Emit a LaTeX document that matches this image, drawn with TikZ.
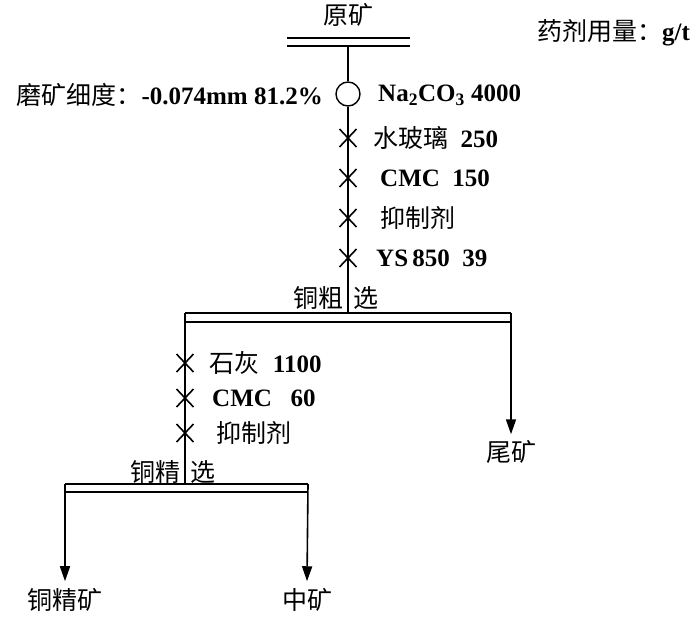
\documentclass[tikz,border=0pt]{standalone}
\usepackage{fontspec}
\setmainfont{Liberation Serif}
\newfontfamily\cjk{Noto Sans CJK SC}
\usetikzlibrary{arrows.meta,calc}
\newcommand{\fs}{\fontsize{25}{27}\selectfont}
\tikzset{
  lbl/.style={inner sep=0pt, font=\fs\bfseries},
  cn/.style={inner sep=0pt, font=\fs\cjk},
  mix/.style={inner sep=0pt, font=\fs},
  flow/.style={line width=1.6pt},
  bar/.style={line width=2pt},
  arr/.style={line width=1.6pt, -{Triangle[length=15pt,width=10pt]}},
  xmark/.style={line width=1.6pt}
}
\newcommand{\xm}[1]{\draw[xmark] ($(#1)+(-8.5,-9)$) -- ($(#1)+(8.5,9)$) ($(#1)+(-8.5,9)$) -- ($(#1)+(8.5,-9)$);}
\begin{document}
\begin{tikzpicture}[x=1pt,y=-1pt]
\useasboundingbox (0,0) rectangle (700,616);
% feed
\node[cn] (feed) at (348,15) {原矿};
\coordinate (f1) at (287,38); \coordinate (f2) at (410,38);
\coordinate (f3) at (287,46); \coordinate (f4) at (410,46);
\draw[bar] (f1) -- (f2);
\draw[bar] (f3) -- (f4);
\coordinate (ftop) at (348,46);
\node[draw, circle, line width=1.4pt, minimum size=24pt, inner sep=0pt] (mill) at (348,94) {};
\coordinate (rtop) at (348,313);
\draw[flow] (ftop) -- (mill.north);
\draw[flow] (mill.south) -- (rtop);
% crosses on main line
\coordinate (x1) at (348,138);
\coordinate (x2) at (348,178);
\coordinate (x3) at (348,218);
\coordinate (x4) at (348,258);
\xm{x1}\xm{x2}\xm{x3}\xm{x4}
% labels
\node[mix, anchor=east] (grind) at (323,95) {{\cjk 磨矿细度：}{\bfseries -0.074mm 81.2\%}};
\node[mix, anchor=west] (dose) at (537,33) {{\cjk 药剂用量：}{\bfseries g/t}};
\node[lbl, anchor=west] (na) at (378,95) {Na\textsubscript{2}CO\textsubscript{3} 4000};
\node[mix, anchor=west] (r1) at (373,138) {{\cjk 水玻璃}\hspace{0.5em}{\bfseries 250}};
\node[lbl, anchor=west] (r2) at (380,178) {CMC\ \ 150};
\node[cn, anchor=west] (r3) at (380,218) {抑制剂};
\node[lbl, anchor=west] (r4) at (376,258) {YS\,850\ \ 39};
% rougher
\node[cn, anchor=east] (ro1) at (344,298) {铜粗};
\node[cn, anchor=west] (ro2) at (353,298) {选};
\coordinate (rL) at (185,313); \coordinate (rR) at (511,313);
\coordinate (rLb) at (185,322); \coordinate (rRb) at (511,322);
\draw[bar] (rL) -- (rR);
\draw[line width=1.4pt] (rLb) -- (rRb);
\node[cn] (tail) at (511,452) {尾矿};
\draw[arr] (rR) -- ($(tail.north)+(0,-6)$);
% cleaner feed
\coordinate (ctop) at (185,484);
\draw[flow] (rL) -- (ctop);
\coordinate (y1) at (185,363);
\coordinate (y2) at (185,398);
\coordinate (y3) at (185,433);
\xm{y1}\xm{y2}\xm{y3}
\node[mix, anchor=west] (c1) at (209,363) {{\cjk 石灰}\hspace{0.55em}{\bfseries 1100}};
\node[lbl, anchor=west] (c2) at (212,398) {CMC\ \ \ 60};
\node[cn, anchor=west] (c3) at (216,433) {抑制剂};
% cleaner
\node[cn, anchor=east] (cl1) at (181,472) {铜精};
\node[cn, anchor=west] (cl2) at (190,472) {选};
\coordinate (cL) at (65,484); \coordinate (cR) at (308,484);
\coordinate (cLb) at (65,492); \coordinate (cRb) at (308,492);
\draw[bar] (cL) -- (cR);
\draw[line width=1.4pt] (cLb) -- (cRb);
\node[cn] (conc) at (65,600) {铜精矿};
\node[cn] (mid) at (307,600) {中矿};
\draw[arr] (cL) -- ($(conc.north)+(0,-7)$);
\draw[arr] (cR) -- ($(mid.north)+(0,-7)$);
\end{tikzpicture}
\end{document}
